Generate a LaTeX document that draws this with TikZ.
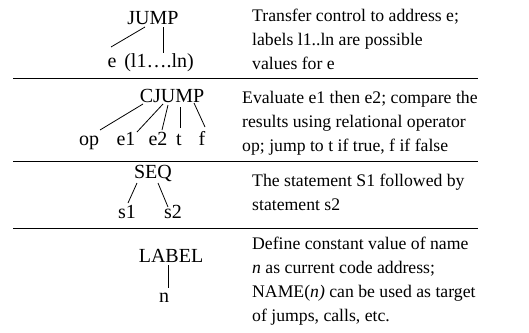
\documentclass[tikz,border=0pt]{standalone}
\usepackage{fontspec}
\setmainfont{Liberation Serif}
\usetikzlibrary{calc}
\tikzset{
  lbl/.style={inner sep=0pt, anchor=base, font=\fontsize{20}{24}\selectfont},
  desc/.style={inner sep=0pt, anchor=base west, font=\fontsize{17.7}{24}\selectfont},
  edge/.style={line width=0.8pt},
  sep/.style={line width=0.9pt}
}
\begin{document}
\begin{tikzpicture}[x=1pt,y=-1pt]
\useasboundingbox (0,0) rectangle (529,332);
% separators
\draw[sep] (13,78) -- (478,78);
\draw[sep] (13,161) -- (478,161);
\draw[sep] (13,228) -- (478,228);
% JUMP
\node[lbl] (jump) at (153,24) {JUMP};
\node[lbl] (e) at (112,67) {e};
\node[lbl] (ls) at (159,67) {(l1….ln)};
\draw[edge] ($(jump.base)+(-8,3)$) -- ($(e.base)+(-1,-20)$);
\draw[edge] ($(jump.base)+(10,3)$) -- ($(ls.base)+(4,-14)$);
% CJUMP
\node[lbl] (cjump) at (172,102) {CJUMP};
\node[lbl] (op) at (89,145) {op};
\node[lbl] (e1) at (126,145) {e1};
\node[lbl] (e2) at (158,145) {e2};
\node[lbl] (t) at (179,145) {t};
\node[lbl] (f) at (202,145) {f};
\draw[edge] ($(cjump.base)+(-29,2)$) -- ($(op.base)+(11,-15)$);
\draw[edge] ($(cjump.base)+(-9,2)$) -- ($(e1.base)+(11,-13)$);
\draw[edge] ($(cjump.base)+(-4,3)$) -- ($(e2.base)+(4,-15)$);
\draw[edge] ($(cjump.base)+(8,5)$) -- ($(t.base)+(1,-17)$);
\draw[edge] ($(cjump.base)+(22,1)$) -- ($(f.base)+(3,-18)$);
% SEQ
\node[lbl] (seq) at (153,178) {SEQ};
\node[lbl] (s1) at (127,218) {s1};
\node[lbl] (s2) at (173,218) {s2};
\draw[edge] ($(seq.base)+(-16,5)$) -- ($(s1.base)+(1,-15)$);
\draw[edge] ($(seq.base)+(5,5)$) -- ($(s2.base)+(-5,-11)$);
% LABEL
\node[lbl] (label) at (171,262) {LABEL};
\node[lbl] (n) at (164,302) {n};
\draw[edge] ($(label.base)+(-3,3)$) -- ($(n.base)+(4,-14)$);
% descriptions
\node[desc] (d1) at (252,21) {\vtop{\hbox{Transfer control to address e;}\hbox{labels l1..ln are possible}\hbox{values for e}}};
\node[desc] (d2) at (242,103) {\vtop{\hbox{Evaluate e1 then e2; compare the}\hbox{results using relational operator}\hbox{op; jump to t if true, f if false}}};
\node[desc] (d3) at (252,186) {\vtop{\hbox{The statement S1 followed by}\hbox{statement s2}}};
\node[desc] (d4) at (252,249) {\vtop{\hbox{Define constant value of name}\hbox{\textit{n} as current code address;}\hbox{NAME(\textit{n)} can be used as target}\hbox{of jumps, calls, etc.}}};
\end{tikzpicture}
\end{document}
